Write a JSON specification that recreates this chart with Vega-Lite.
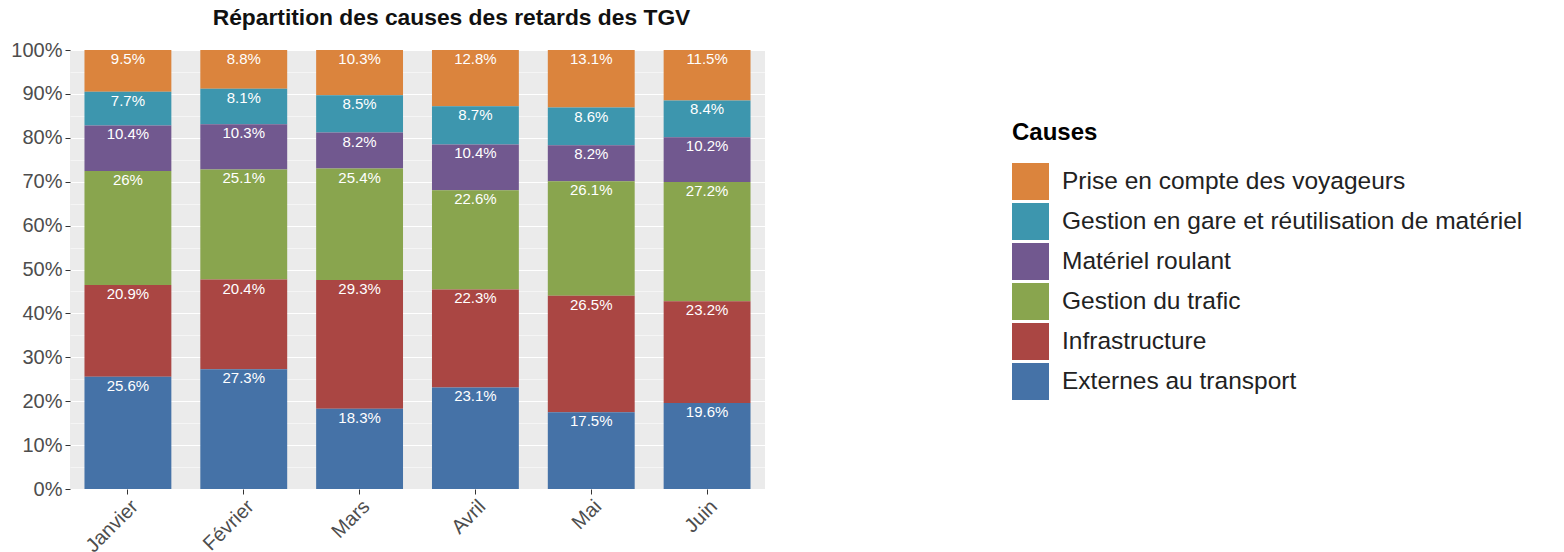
{
  "$schema": "https://vega.github.io/schema/vega-lite/v6.json",
  "width": 695,
  "height": 439,
  "autosize": {"type": "none"},
  "padding": {"left": 70, "top": 50, "right": 799, "bottom": 63},
  "background": "white",
  "title": {"text": "Répartition des causes des retards des TGV", "fontSize": 22.8, "fontWeight": "bold", "font": "Liberation Sans", "color": "#111111", "anchor": "middle", "frame": "group", "dx": 34, "offset": 10},
  "config": {"view": {"fill": "#EBEBEB", "stroke": null}, "font": "Liberation Sans"},
  "data": {"values": [
    {"mois": "Janvier", "cause": "Prise en compte des voyageurs", "rank": 6, "v": 0.095},
    {"mois": "Janvier", "cause": "Gestion en gare et réutilisation de matériel", "rank": 5, "v": 0.077},
    {"mois": "Janvier", "cause": "Matériel roulant", "rank": 4, "v": 0.104},
    {"mois": "Janvier", "cause": "Gestion du trafic", "rank": 3, "v": 0.26},
    {"mois": "Janvier", "cause": "Infrastructure", "rank": 2, "v": 0.209},
    {"mois": "Janvier", "cause": "Externes au transport", "rank": 1, "v": 0.256},
    {"mois": "Février", "cause": "Prise en compte des voyageurs", "rank": 6, "v": 0.088},
    {"mois": "Février", "cause": "Gestion en gare et réutilisation de matériel", "rank": 5, "v": 0.081},
    {"mois": "Février", "cause": "Matériel roulant", "rank": 4, "v": 0.103},
    {"mois": "Février", "cause": "Gestion du trafic", "rank": 3, "v": 0.251},
    {"mois": "Février", "cause": "Infrastructure", "rank": 2, "v": 0.204},
    {"mois": "Février", "cause": "Externes au transport", "rank": 1, "v": 0.273},
    {"mois": "Mars", "cause": "Prise en compte des voyageurs", "rank": 6, "v": 0.103},
    {"mois": "Mars", "cause": "Gestion en gare et réutilisation de matériel", "rank": 5, "v": 0.085},
    {"mois": "Mars", "cause": "Matériel roulant", "rank": 4, "v": 0.082},
    {"mois": "Mars", "cause": "Gestion du trafic", "rank": 3, "v": 0.254},
    {"mois": "Mars", "cause": "Infrastructure", "rank": 2, "v": 0.293},
    {"mois": "Mars", "cause": "Externes au transport", "rank": 1, "v": 0.183},
    {"mois": "Avril", "cause": "Prise en compte des voyageurs", "rank": 6, "v": 0.128},
    {"mois": "Avril", "cause": "Gestion en gare et réutilisation de matériel", "rank": 5, "v": 0.087},
    {"mois": "Avril", "cause": "Matériel roulant", "rank": 4, "v": 0.104},
    {"mois": "Avril", "cause": "Gestion du trafic", "rank": 3, "v": 0.226},
    {"mois": "Avril", "cause": "Infrastructure", "rank": 2, "v": 0.223},
    {"mois": "Avril", "cause": "Externes au transport", "rank": 1, "v": 0.231},
    {"mois": "Mai", "cause": "Prise en compte des voyageurs", "rank": 6, "v": 0.131},
    {"mois": "Mai", "cause": "Gestion en gare et réutilisation de matériel", "rank": 5, "v": 0.086},
    {"mois": "Mai", "cause": "Matériel roulant", "rank": 4, "v": 0.082},
    {"mois": "Mai", "cause": "Gestion du trafic", "rank": 3, "v": 0.261},
    {"mois": "Mai", "cause": "Infrastructure", "rank": 2, "v": 0.265},
    {"mois": "Mai", "cause": "Externes au transport", "rank": 1, "v": 0.175},
    {"mois": "Juin", "cause": "Prise en compte des voyageurs", "rank": 6, "v": 0.115},
    {"mois": "Juin", "cause": "Gestion en gare et réutilisation de matériel", "rank": 5, "v": 0.084},
    {"mois": "Juin", "cause": "Matériel roulant", "rank": 4, "v": 0.102},
    {"mois": "Juin", "cause": "Gestion du trafic", "rank": 3, "v": 0.272},
    {"mois": "Juin", "cause": "Infrastructure", "rank": 2, "v": 0.232},
    {"mois": "Juin", "cause": "Externes au transport", "rank": 1, "v": 0.196}
  ]},
  "encoding": {
    "x": {
      "field": "mois", "type": "nominal",
      "sort": ["Janvier", "Février", "Mars", "Avril", "Mai", "Juin"],
      "scale": {"paddingInner": 0.25, "paddingOuter": 0.125},
      "axis": {"title": null, "labelAngle": -45, "labelAlign": "right", "labelBaseline": "top", "labelFontSize": 20, "labelColor": "#4D4D4D", "tickColor": "#333333", "tickSize": 5, "domain": false, "grid": false, "labelPadding": 2}
    },
    "y": {
      "field": "v", "type": "quantitative", "stack": "normalize",
      "scale": {"domain": [0, 1], "nice": false},
      "axis": {
        "title": null,
        "values": [0, 0.05, 0.1, 0.15, 0.2, 0.25, 0.3, 0.35, 0.4, 0.45, 0.5, 0.55, 0.6, 0.65, 0.7, 0.75, 0.8, 0.85, 0.9, 0.95, 1],
        "format": ".0%",
        "labelExpr": "round(datum.value*100) % 10 == 0 ? datum.label : ''",
        "labelFontSize": 20, "labelColor": "#4D4D4D", "labelOverlap": false, "labelPadding": 3,
        "tickColor": "#333333", "tickSize": 5,
        "tickOpacity": {"condition": {"test": "round(datum.value*100) % 10 == 0", "value": 1}, "value": 0},
        "gridColor": "white",
        "gridWidth": {"condition": {"test": "round(datum.value*100) % 10 == 0", "value": 1.2}, "value": 0.5},
        "domain": false
      }
    },
    "order": {"field": "rank", "type": "quantitative"}
  },
  "layer": [
    {
      "mark": {"type": "bar"},
      "encoding": {
        "color": {
          "field": "cause", "type": "nominal",
          "scale": {
            "domain": ["Prise en compte des voyageurs", "Gestion en gare et réutilisation de matériel", "Matériel roulant", "Gestion du trafic", "Infrastructure", "Externes au transport"],
            "range": ["#DB843D", "#3D96AE", "#71588F", "#89A54E", "#AA4643", "#4572A7"]
          },
          "legend": {"title": "Causes", "orient": "none", "legendX": 942, "legendY": 71, "titleFontSize": 24, "titleFontWeight": "bold", "titleColor": "#000000", "labelFontSize": 24.5, "labelColor": "#222222", "symbolType": "square", "symbolSize": 1369, "symbolStrokeWidth": 0, "symbolOpacity": 1, "rowPadding": 3, "labelOffset": 13, "titlePadding": 18, "padding": 0, "labelLimit": 700}
        }
      }
    },
    {
      "mark": {"type": "text", "baseline": "top", "dy": 2, "color": "white", "fontSize": 15},
      "encoding": {
        "text": {"field": "v", "type": "quantitative", "format": ".1~%"},
        "detail": {"field": "cause"}
      }
    }
  ]
}
